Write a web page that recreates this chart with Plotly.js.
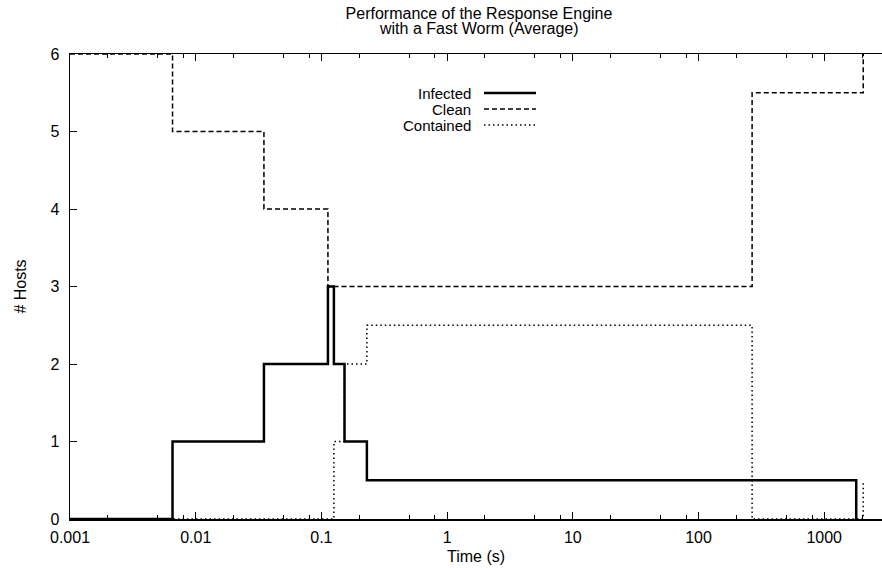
<!DOCTYPE html>
<html>
<head>
<meta charset="utf-8">
<script src="https://cdn.plot.ly/plotly-3.0.1.min.js"></script>
<style>html,body{margin:0;padding:0;background:#fff;}#chart{width:882px;height:568px;}</style>
</head>
<body>
<div id="chart"></div>
<script>
// ---- data ----
var infectedTime = [0.001, 0.00654, 0.0349, 0.1127, 0.1257, 0.1527, 0.2301, 1798];
var infectedHosts = [0, 1, 2, 3, 2, 1, 0.5, 0];

var cleanTime = [0.001, 0.00654, 0.0349, 0.1127, 267, 2044];
var cleanHosts = [6, 5, 4, 3, 5.5, 6];

var containedTime = [0.001, 0.1257, 0.1527, 0.2301, 267, 2044];
var containedHosts = [0, 1, 2, 2.5, 0, 0.5];

var xTickVals = [0.001, 0.01, 0.1, 1, 10, 100, 1000];
var xTickText = ["0.001", "0.01", "0.1", "1", "10", "100", "1000"];
var xMinorVals = [0.002, 0.005, 0.008, 0.02, 0.05, 0.08, 0.2, 0.5, 0.8, 2, 5, 8, 20, 50, 80, 200, 500, 800, 2000];
var yTickVals = [0, 1, 2, 3, 4, 5, 6];

var seriesNames = ["Infected", "Clean", "Contained"];

// ---- layout helpers (pixel -> paper) ----
var L = 70, R = 882, T = 54, B = 519;
function px(x) { return (x - L) / (R - L); }
function py(y) { return (B - y) / (B - T); }

var FONT = "Liberation Sans, Arial, Helvetica, sans-serif";
var FS = 16;

var traces = [
  {x: infectedTime, y: infectedHosts, name: seriesNames[0], type: "scatter", mode: "lines",
   line: {shape: "hv", color: "#000", width: 2.5}, showlegend: false},
  {x: cleanTime, y: cleanHosts, name: seriesNames[1], type: "scatter", mode: "lines",
   line: {shape: "hv", color: "#000", width: 1.5, dash: "5px,3px"}, showlegend: false},
  {x: containedTime, y: containedHosts, name: seriesNames[2], type: "scatter", mode: "lines",
   line: {shape: "hv", color: "#000", width: 1.5, dash: "1.5px,3px"}, showlegend: false}
];

var legendRows = [93, 109, 125];
var legendStyles = [
  {width: 2.5, dash: "solid"},
  {width: 1.5, dash: "5px,3px"},
  {width: 1.5, dash: "1.5px,3px"}
];

var annotations = [
  {text: "with a Fast Worm (Average)", xref: "paper", yref: "paper", x: px(479), y: py(28),
   xanchor: "center", yanchor: "middle", showarrow: false, font: {family: FONT, size: FS, color: "#000"}}
];
var shapes = [];
seriesNames.forEach(function (n, i) {
  annotations.push({text: n, xref: "paper", yref: "paper", x: px(473), y: py(legendRows[i]),
    xanchor: "right", yanchor: "middle", showarrow: false, font: {family: FONT, size: 15, color: "#000"}});
  shapes.push({type: "line", xref: "paper", yref: "paper", x0: px(484), x1: px(536),
    y0: py(legendRows[i]), y1: py(legendRows[i]),
    line: {color: "#000", width: legendStyles[i].width, dash: legendStyles[i].dash}});
});

var layout = {
  width: 882, height: 568,
  margin: {l: L, r: 882 - R, t: T, b: 568 - B, pad: 0},
  paper_bgcolor: "#fff", plot_bgcolor: "#fff",
  font: {family: FONT, size: FS, color: "#000"},
  title: {text: "Performance of the Response Engine", x: px(479) * (R - L) / 882 + L / 882, xanchor: "center",
          y: 1 - 13 / 568, yanchor: "middle", yref: "container", xref: "container",
          font: {family: FONT, size: FS, color: "#000"}},
  xaxis: {
    type: "log", range: [-3, -3 + (R - L) / 125.7],
    tickmode: "array", tickvals: xTickVals, ticktext: xTickText,
    ticks: "inside", ticklen: 7, tickwidth: 1, tickcolor: "#000",
    minor: {tickmode: "array", tickvals: xMinorVals, ticks: "inside", ticklen: 4, tickwidth: 1, tickcolor: "#000", showgrid: false},
    showline: true, linecolor: "#000", linewidth: 1.5, mirror: "ticks",
    showgrid: false, zeroline: false, ticklabelstandoff: 3,
    tickfont: {family: FONT, size: FS, color: "#000"},
    title: {text: "Time (s)", standoff: 6, font: {family: FONT, size: FS, color: "#000"}}
  },
  yaxis: {
    range: [0, 6], tickmode: "array", tickvals: yTickVals,
    ticks: "inside", ticklen: 7, tickwidth: 1, tickcolor: "#000",
    showline: true, linecolor: "#000", linewidth: 1.5, mirror: false,
    showgrid: false, zeroline: false, ticklabelstandoff: 6,
    tickfont: {family: FONT, size: FS, color: "#000"},
    title: {text: "# Hosts", standoff: 20, font: {family: FONT, size: FS, color: "#000"}}
  },
  annotations: annotations,
  shapes: shapes,
  showlegend: false
};

Plotly.newPlot("chart", traces, layout, {displayModeBar: false, staticPlot: true});
</script>
</body>
</html>
